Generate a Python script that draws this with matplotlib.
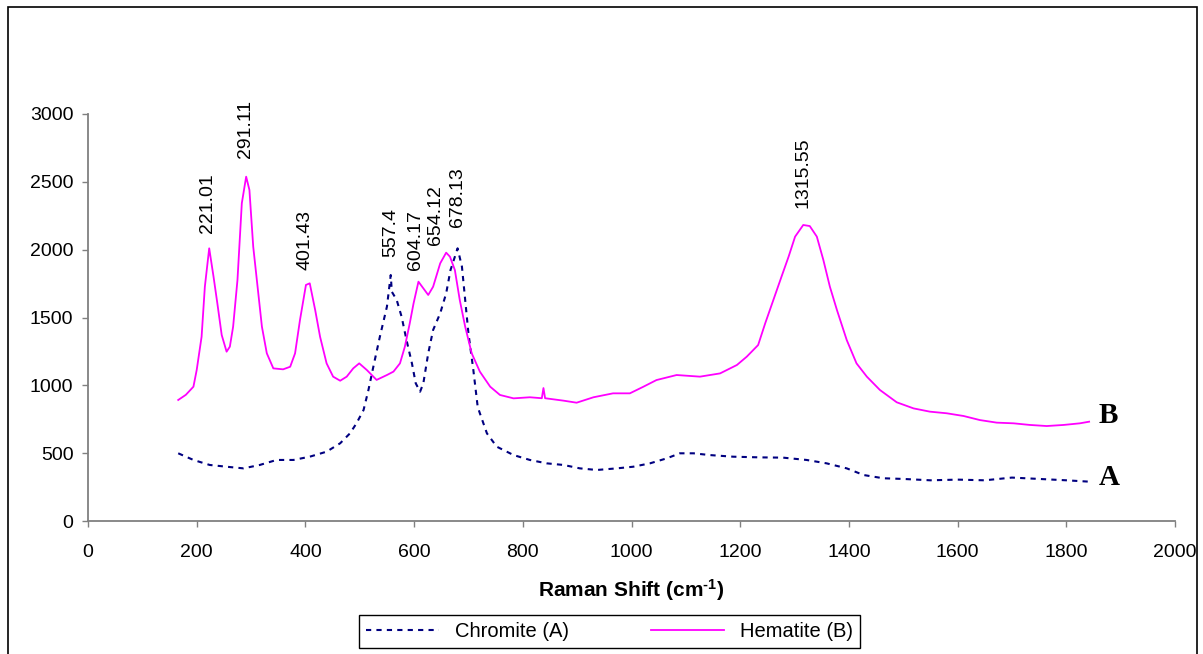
import matplotlib
matplotlib.use('Agg')
import matplotlib.pyplot as plt
from matplotlib.patches import Rectangle

plt.rcParams['font.family'] = ['Liberation Sans', 'DejaVu Sans']
plt.rcParams['mathtext.fontset'] = 'custom'
plt.rcParams['mathtext.rm'] = 'Liberation Sans:bold'
plt.rcParams['mathtext.default'] = 'rm'

# Chromite (A)
chr_x = [166, 194, 224, 255, 286, 316, 347, 378, 408, 439,
         464, 482, 494, 507, 516, 525, 537, 550, 557, 559,
         568, 577, 586, 596, 603, 611, 617, 626, 635, 648,
         659, 667, 675, 680, 688, 694, 700, 709, 717, 721,
         734, 752, 783, 813, 844, 875, 905, 936, 973, 1003,
         1034, 1065, 1089, 1114, 1144, 1187, 1236, 1279, 1322, 1359,
         1396, 1427, 1463, 1500, 1550, 1600, 1650, 1700, 1750, 1800,
         1842]
chr_y = [499, 450, 413, 400, 388, 413, 450, 450, 474, 511,
         573, 646, 720, 818, 966, 1137, 1358, 1580, 1813, 1690,
         1629, 1506, 1334, 1162, 1015, 953, 1015, 1236, 1408, 1531,
         1678, 1850, 1948, 2010, 1875, 1629, 1383, 1113, 842, 794,
         646, 548, 486, 450, 425, 413, 388, 376, 388, 400,
         425, 462, 499, 499, 486, 474, 469, 467, 450, 425,
         388, 339, 315, 310, 300, 305, 300, 320, 310, 300,
         290]

# Hematite (B)
hem_x = [166, 180, 194, 200, 209, 215, 223, 231, 238, 246,
         255, 261, 267, 275, 283, 291, 297, 304, 312, 320,
         329, 341, 359, 372, 381, 390, 401, 408, 418, 427,
         439, 451, 464, 476, 488, 499, 513, 531, 550, 562,
         574, 583, 592, 599, 608, 617, 626, 635, 648, 659,
         666, 675, 684, 694, 706, 721, 740, 758, 783, 813,
         835, 838, 841, 875, 899, 930, 966, 997, 1022, 1046,
         1083, 1126, 1163, 1194, 1212, 1233, 1246, 1261, 1276, 1289,
         1301, 1316, 1328, 1341, 1353, 1365, 1378, 1396, 1414, 1433,
         1457, 1488, 1519, 1549, 1580, 1611, 1641, 1672, 1703, 1733,
         1764, 1795, 1825, 1842]
hem_y = [892, 930, 990, 1113, 1358, 1727, 2010, 1800, 1604, 1371,
         1248, 1285, 1432, 1776, 2342, 2538, 2440, 2022, 1727, 1432,
         1236, 1125, 1118, 1137, 1236, 1481, 1740, 1752, 1555, 1358,
         1162, 1064, 1034, 1064, 1125, 1162, 1113, 1040, 1076, 1101,
         1162, 1285, 1457, 1604, 1764, 1715, 1666, 1727, 1899, 1978,
         1948, 1850, 1629, 1432, 1236, 1101, 990, 929, 904, 912,
         905, 980, 905, 887, 872, 912, 941, 941, 990, 1039,
         1076, 1064, 1088, 1150, 1211, 1297, 1457, 1629, 1801, 1948,
         2096, 2182, 2174, 2096, 1924, 1727, 1555, 1334, 1162, 1064,
         966, 875, 830, 806, 794, 774, 744, 725, 720, 708,
         700, 708, 720, 732]
assert len(chr_x) == len(chr_y) and len(hem_x) == len(hem_y)

peak_labels = ['221.01', '291.11', '401.43', '557.4', '604.17', '654.12', '678.13', '1315.55']
peak_x = [220, 290, 400, 557, 602, 639, 680, 1316]
peak_y = [2123, 2676, 1850, 1946, 1850, 2034, 2167, 2307]

W, H = 1203, 654
fig = plt.figure(figsize=(W / 100, H / 100), dpi=100)
ax = fig.add_axes([88 / W, 1 - 521 / H, 1087 / W, 407 / H])

lc, = ax.plot(chr_x, chr_y, color='#000080', lw=1.5, ls=(0, (2.5, 2.5)), label='Chromite (A)')
lh, = ax.plot(hem_x, hem_y, color='#FF00FF', lw=1.3, label='Hematite (B)')

for t, x, y in zip(peak_labels, peak_x, peak_y):
    ax.text(x, y, t, rotation=90, ha='center', va='bottom', fontsize=14)

ax.text(1877, 781, 'B', fontsize=21, fontweight='bold', family='Liberation Serif',
        ha='center', va='center')
ax.text(1879, 324, 'A', fontsize=21, fontweight='bold', family='Liberation Serif',
        ha='center', va='center')

ax.set_xlim(0, 2000)
ax.set_ylim(0, 3000)
ax.set_xticks(range(0, 2001, 200))
ax.set_yticks(range(0, 3001, 500))
for s in ['top', 'right']:
    ax.spines[s].set_visible(False)
for s in ['left', 'bottom']:
    ax.spines[s].set_color('#808080')
    ax.spines[s].set_linewidth(1.3)
ax.tick_params(direction='out', length=4.5, width=1, color='#808080', labelsize=14)
ax.tick_params(axis='x', pad=12)
ax.tick_params(axis='y', pad=6)
ax.set_xlabel(r'Raman Shift (cm$^{\text{-}1}$)', fontsize=15, fontweight='bold', labelpad=12)

leg = fig.legend([lc, lh], ['Chromite (A)', 'Hematite (B)'], ncol=2,
                 loc='upper left', bbox_to_anchor=(359 / W, 1 - 616 / H, 501 / W, 0.001),
                 mode='expand', fontsize=14.5, handlelength=3.6, fancybox=False,
                 edgecolor='black', framealpha=1, borderpad=0.35, borderaxespad=0,
                 handletextpad=0.8, columnspacing=3)
leg.get_frame().set_linewidth(1)

# outer chart border (bottom edge falls outside the picture)
fig.patches.append(Rectangle((8 / W, -0.05), 1189 / W, 1.05 - 7 / H,
                             transform=fig.transFigure, fill=False,
                             edgecolor='black', lw=1.2))

fig.savefig('out.png', dpi=100)
